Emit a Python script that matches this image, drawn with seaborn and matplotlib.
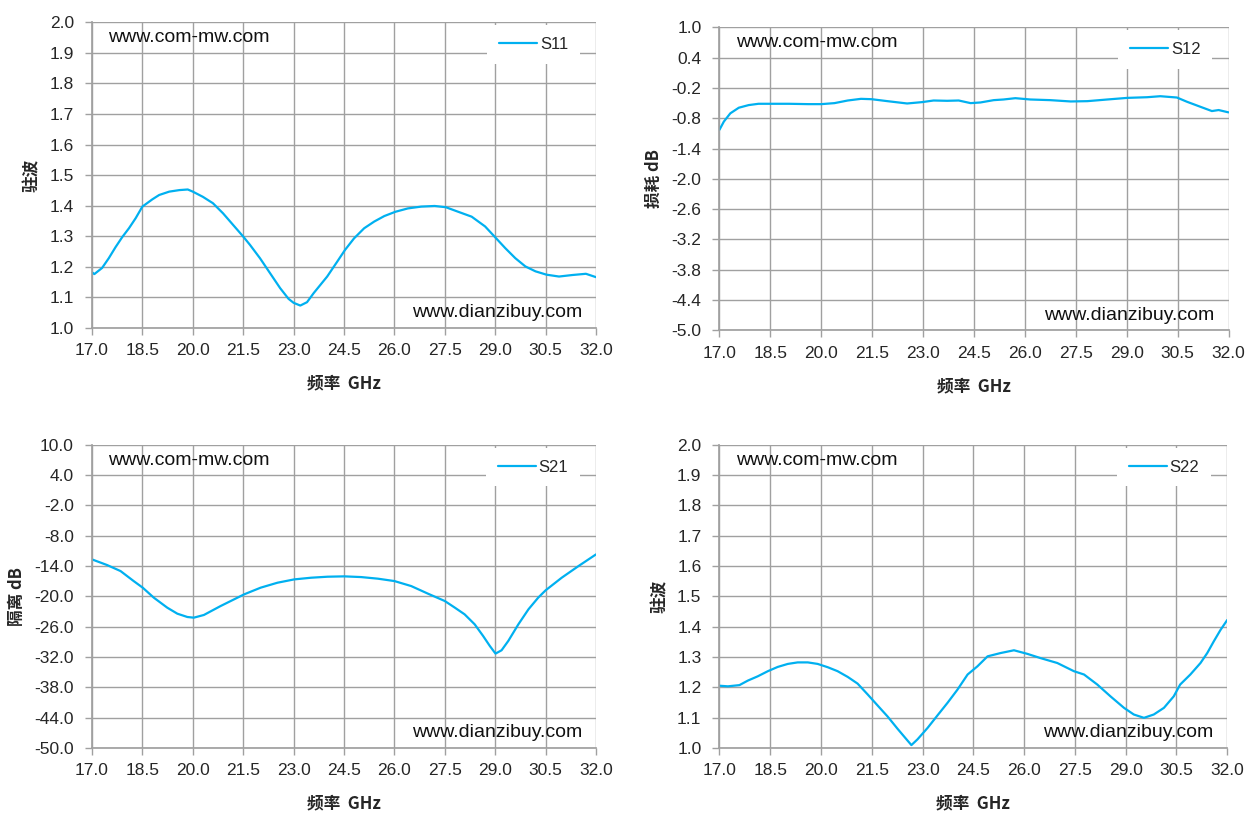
import numpy as np
import pandas as pd
import matplotlib
matplotlib.use('Agg')
import matplotlib.pyplot as plt
import seaborn as sns

# S11 standing wave
s11_freq = [17.0, 17.07, 17.3, 17.5, 17.7, 17.9, 18.1, 18.3, 18.5, 18.8, 19.0, 19.3, 19.6, 19.85,
            20.0, 20.3, 20.6, 20.9, 21.2, 21.5, 21.7, 22.0, 22.3, 22.6, 22.85, 23.0, 23.2, 23.4,
            23.6, 23.8, 24.0, 24.3, 24.53, 24.8, 25.1, 25.4, 25.7, 26.03, 26.4, 26.8, 27.2, 27.53,
            27.9, 28.3, 28.7, 29.03, 29.3, 29.6, 29.9, 30.2, 30.53, 30.9, 31.3, 31.7, 32.0]
s11_vals = [1.182, 1.176, 1.196, 1.228, 1.264, 1.297, 1.326, 1.359, 1.397, 1.421, 1.435, 1.446, 1.451, 1.453,
            1.446, 1.429, 1.408, 1.375, 1.337, 1.299, 1.272, 1.228, 1.179, 1.13, 1.095, 1.082, 1.073, 1.084,
            1.114, 1.141, 1.168, 1.217, 1.255, 1.293, 1.326, 1.348, 1.366, 1.38, 1.391, 1.397, 1.399, 1.395,
            1.38, 1.364, 1.332, 1.293, 1.261, 1.228, 1.201, 1.185, 1.174, 1.168, 1.173, 1.177, 1.166]

# S12 loss
s12_freq = [17.0, 17.13, 17.32, 17.57, 17.86, 18.15, 18.52, 19.04, 19.62, 20.0, 20.39, 20.78, 21.17,
            21.48, 21.95, 22.53, 22.97, 23.31, 23.71, 24.05, 24.4, 24.69, 25.08, 25.37, 25.72, 26.16,
            26.75, 27.35, 27.84, 28.43, 29.02, 29.6, 29.99, 30.48, 30.78, 31.17, 31.51, 31.71, 32.0]
s12_vals = [-1.028, -0.865, -0.702, -0.591, -0.539, -0.513, -0.513, -0.513, -0.52, -0.52, -0.5, -0.448, -0.415,
            -0.422, -0.461, -0.507, -0.48, -0.448, -0.454, -0.448, -0.5, -0.487, -0.441, -0.428, -0.402, -0.428,
            -0.441, -0.467, -0.461, -0.428, -0.396, -0.383, -0.363, -0.389, -0.474, -0.572, -0.657, -0.637, -0.683]

# S21 isolation
s21_freq = [17.0, 17.45, 17.85, 18.24, 18.51, 18.84, 19.24, 19.54, 19.84, 20.03, 20.33, 20.83, 21.23,
            21.53, 22.02, 22.52, 23.02, 23.52, 24.01, 24.51, 25.01, 25.51, 26.0, 26.5, 27.0, 27.5, 27.8,
            28.09, 28.39, 28.64, 28.84, 29.01, 29.19, 29.39, 29.69, 29.99, 30.28, 30.5, 30.98, 31.48, 32.0]
s21_vals = [-12.68, -13.8, -14.99, -16.97, -18.28, -20.26, -22.24, -23.43, -24.09, -24.22, -23.69, -21.91, -20.59,
            -19.6, -18.28, -17.3, -16.64, -16.31, -16.11, -16.04, -16.18, -16.5, -16.97, -17.96, -19.47, -20.92, -22.24,
            -23.56, -25.54, -27.84, -29.82, -31.34, -30.68, -28.83, -25.54, -22.57, -20.26, -18.81, -16.31, -14.0, -11.69]

# S22 standing wave
s22_freq = [17.0, 17.25, 17.59, 17.84, 18.13, 18.43, 18.72, 19.02, 19.31, 19.61, 19.9, 20.2, 20.49,
            20.79, 21.08, 21.38, 21.67, 21.97, 22.26, 22.51, 22.67, 22.85, 23.15, 23.44, 23.74, 24.03,
            24.33, 24.62, 24.92, 25.31, 25.7, 26.1, 26.49, 26.98, 27.47, 27.77, 28.16, 28.55, 28.95,
            29.24, 29.54, 29.83, 30.13, 30.42, 30.61, 30.91, 31.21, 31.41, 31.6, 31.8, 32.0]
s22_vals = [1.205, 1.203, 1.207, 1.222, 1.236, 1.253, 1.267, 1.277, 1.282, 1.282, 1.277, 1.266, 1.253,
            1.234, 1.212, 1.176, 1.14, 1.103, 1.063, 1.03, 1.009, 1.028, 1.066, 1.107, 1.149, 1.192,
            1.242, 1.269, 1.302, 1.313, 1.322, 1.31, 1.296, 1.28, 1.253, 1.242, 1.209, 1.17, 1.132,
            1.11, 1.099, 1.11, 1.132, 1.17, 1.209, 1.242, 1.28, 1.313, 1.351, 1.389, 1.422]

x_ticks = [17.0, 18.5, 20.0, 21.5, 23.0, 24.5, 26.0, 27.5, 29.0, 30.5, 32.0]

panels = [
    ('S11', s11_freq, s11_vals, '驻波', (1.0, 2.0, 0.1)),
    ('S12', s12_freq, s12_vals, '损耗 dB', (-5.0, 1.0, 0.6)),
    ('S21', s21_freq, s21_vals, '隔离 dB', (-50.0, 10.0, 6.0)),
    ('S22', s22_freq, s22_vals, '驻波', (1.0, 2.0, 0.1)),
]

sns.set_theme(style='whitegrid', rc={'grid.color': '#a0a0a0', 'grid.linewidth': 1.0,
                                     'axes.edgecolor': '#a0a0a0'})
plt.rcParams['font.family'] = ['Liberation Sans', 'Noto Sans CJK SC', 'DejaVu Sans']

line_color = '#00b0f0'
cjk = ['Noto Sans CJK SC', 'DejaVu Sans']

fig = plt.figure(figsize=(12.6, 8.3), dpi=100)
rects = [
    [0.073, 0.605, 0.400, 0.368],
    [0.571, 0.602, 0.404, 0.365],
    [0.073, 0.099, 0.400, 0.365],
    [0.571, 0.099, 0.403, 0.365],
]

for rect, (name, freq, vals, ylab, (ymin, ymax, ystep)) in zip(rects, panels):
    ax = fig.add_axes(rect)
    df = pd.DataFrame({'freq': freq, 'val': vals})
    sns.lineplot(data=df, x='freq', y='val', ax=ax, color=line_color, linewidth=1.6, label=name)

    ax.set_xlim(17.0, 32.0)
    ax.set_ylim(ymin, ymax)
    ax.set_xticks(x_ticks)
    yt = np.round(np.arange(ymin, ymax + ystep / 2, ystep), 2)
    ax.set_yticks(yt)
    ax.set_xticklabels([f'{t:.1f}' for t in x_ticks], fontsize=12.5)
    ax.set_yticklabels([f'{t:.1f}' for t in yt], fontsize=12.5)
    ax.tick_params(axis='x', length=5, width=1, color='#a0a0a0', pad=6, bottom=True)
    ax.tick_params(axis='y', length=5, width=1, color='#a0a0a0', pad=8, left=True)
    for side in ['top', 'right']:
        ax.spines[side].set_visible(False)
    ax.spines['left'].set_color('#a0a0a0')
    ax.spines['bottom'].set_color('#a0a0a0')
    ax.grid(True, color='#a0a0a0', linewidth=1.0)

    ax.set_xlabel('频率  GHz', family=cjk, fontsize=12, fontweight='bold', labelpad=12)
    ax.set_ylabel(ylab, family=cjk, fontsize=12, fontweight='bold', labelpad=6)

    ax.text(0.032, 0.95, 'www.com-mw.com', transform=ax.transAxes, fontsize=14,
            va='center', ha='left', color='#111111')
    ax.text(0.972, 0.05, 'www.dianzibuy.com', transform=ax.transAxes, fontsize=14,
            va='center', ha='right', color='#111111')

    leg = ax.legend(loc='upper right', bbox_to_anchor=(0.968, 0.99), borderaxespad=0,
                    frameon=True, facecolor='white', edgecolor='none', framealpha=1,
                    fancybox=False, handlelength=2.3, fontsize=12, borderpad=0.7,
                    handletextpad=0.15)
    leg.get_frame().set_linewidth(0)

fig.savefig('out.png', dpi=100)
